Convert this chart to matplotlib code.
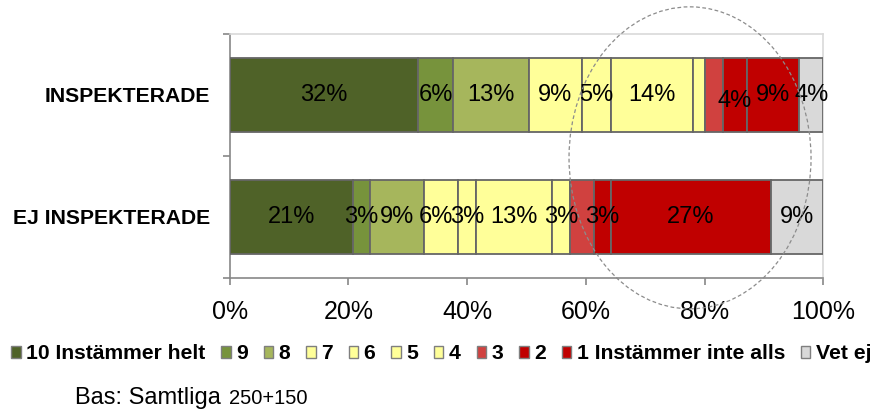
import matplotlib
matplotlib.use("Agg")
import matplotlib.pyplot as plt
from matplotlib.patches import Patch, Ellipse
import numpy as np

plt.rcParams['font.family'] = ['Liberation Sans', 'DejaVu Sans']

groups = ["EJ INSPEKTERADE", "INSPEKTERADE"]
categories = ["10 Instämmer helt", "9", "8", "7", "6", "5", "4", "3", "2",
              "1 Instämmer inte alls", "Vet ej"]
inspekterade = [31.7, 6.0, 12.7, 8.9, 5.0, 13.8, 2.0, 3.0, 4.0, 8.8, 4.1]
ej_inspekterade = [20.7, 3.0, 9.0, 5.8, 3.0, 12.8, 3.0, 4.0, 3.0, 26.8, 8.9]
labels_insp = ["32%", "6%", "13%", "9%", "5%", "14%", "", "", "4%", "9%", "4%"]
labels_ej = ["21%", "3%", "9%", "6%", "3%", "13%", "3%", "", "3%", "27%", "9%"]
xticks = [0, 20, 40, 60, 80, 100]
xticklabels = ["0%", "20%", "40%", "60%", "80%", "100%"]

colors = ["#4F6228", "#77933C", "#A6B65C", "#FFFF99", "#FFFF99", "#FFFF99",
          "#FFFF99", "#D0413F", "#C00000", "#C00000", "#D9D9D9"]
edge = "#666666"

fig = plt.figure(figsize=(8.75, 4.09), dpi=100)
ax = fig.add_axes([0.2624, 0.3203, 0.6787, 0.5966])

data = np.array([ej_inspekterade, inspekterade])
labels = [labels_ej, labels_insp]
ypos = np.arange(len(groups))
# small label nudges (points) as seen in the original chart: (row, category) -> (dx, dy)
nudges = {(0, 3): (-4, 0), (1, 8): (0, -4)}
left = np.zeros(len(groups))
for j, cat in enumerate(categories):
    vals = data[:, j]
    ax.barh(ypos, vals, left=left, height=0.6, color=colors[j],
            edgecolor=edge, linewidth=1.3, label=cat, zorder=3)
    for i in range(len(groups)):
        txt = labels[i][j]
        if txt:
            dx, dy = nudges.get((i, j), (0, 0))
            ax.annotate(txt, (left[i] + vals[i] / 2, ypos[i]), xytext=(dx, dy),
                        textcoords='offset points', ha='center', va='center',
                        fontsize=17, color='black', zorder=4)
    left += vals

ax.set_xlim(0, 100)
ax.set_ylim(-0.5, 1.5)
ax.set_xticks(xticks)
ax.set_xticklabels(xticklabels, fontsize=18)
ax.set_yticks(ypos)
ax.set_yticklabels(groups, fontsize=15.2, fontweight='bold')
ax.set_yticks([-0.5, 0.5, 1.5], minor=True)
ax.tick_params(axis='y', which='major', length=0, pad=14)
ax.tick_params(axis='y', which='minor', length=5, color='#888888', width=1.2)
ax.tick_params(axis='x', length=5, color='#888888', width=1.2, pad=10.5)

for s in ['left', 'bottom']:
    ax.spines[s].set_color('#888888')
    ax.spines[s].set_linewidth(1.2)
for s in ['top', 'right']:
    ax.spines[s].set_color('#D9D9D9')
    ax.spines[s].set_linewidth(1.2)

# Legend
handles = [Patch(facecolor=colors[j], edgecolor='#7F7F7F', linewidth=1.0, label=categories[j])
           for j in range(len(categories))]
leg = fig.legend(handles=handles, loc='center left', bbox_to_anchor=(11 / 875, 0.1345),
                 ncol=len(categories), frameon=False, handlelength=0.45, handleheight=0.45,
                 handletextpad=0.27, columnspacing=0.74, borderaxespad=0, borderpad=0,
                 prop={'weight': 'bold', 'size': 15.2})

# Dashed ellipse highlight
ell = Ellipse((0.7886, 0.6141), 0.2766, 0.7384, transform=fig.transFigure,
              fill=False, edgecolor='#8C8C8C', linestyle=(0, (3, 2)), linewidth=0.9,
              zorder=10)
fig.patches.append(ell)

fig.text(75 / 875, 1 - 404 / 409, "Bas: Samtliga", fontsize=17, va='baseline', ha='left')
fig.text(229 / 875, 1 - 404 / 409, "250+150", fontsize=14.5, va='baseline', ha='left')

fig.savefig("out.png", dpi=100)
